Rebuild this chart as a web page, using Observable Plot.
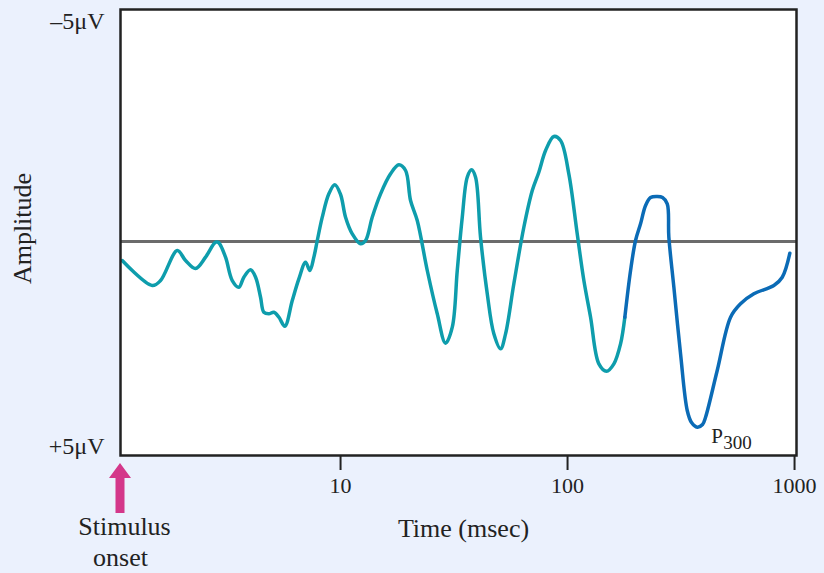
<!DOCTYPE html>
<html>
<head>
<meta charset="utf-8">
<script src="https://cdn.jsdelivr.net/npm/d3@7"></script>
<script src="https://cdn.jsdelivr.net/npm/@observablehq/plot@0.6"></script>
<style>
  html, body { margin: 0; padding: 0; background: #ebf1fd; }
</style>
</head>
<body>
<div id="chart"></div>
<script>
// Time (msec, log scale) and amplitude (µV, negative up)
const earlyTime = [1.092, 1.481, 1.611, 1.909, 2.076, 2.297, 2.543, 2.814, 2.901, 3.114, 3.334, 3.565, 3.750, 4.013, 4.224, 4.442, 4.593, 4.832, 5.084, 5.348, 5.682, 6.128, 6.552, 7.013, 7.326, 7.628, 7.897, 8.307, 8.882, 9.438, 10.0, 10.52, 11.26, 12.25, 12.89, 13.79, 15.01, 16.61, 18.06, 19.34, 20.34, 21.77, 24.10, 26.67, 29.01, 31.06, 32.67, 34.37, 36.15, 37.76, 39.33, 41.37, 44.29, 47.35, 50.67, 53.32, 58.00, 64.19, 69.92, 74.74, 80.02, 87.03, 93.16, 101.3, 110.3, 118.0, 126.3, 137.4, 148.5, 160.0, 171.2, 178.8];
const earlyAmp = [0.447, 1.035, 0.918, 0.212, 0.447, 0.635, 0.369, 0.016, 0.024, 0.369, 0.918, 1.075, 0.840, 0.666, 0.840, 1.311, 1.664, 1.701, 1.664, 1.781, 1.993, 1.388, 0.878, 0.487, 0.682, 0.369, -0.024, -0.572, -1.122, -1.334, -1.106, -0.572, -0.181, 0.054, -0.024, -0.572, -1.122, -1.593, -1.805, -1.671, -0.965, -0.494, 0.682, 1.701, 2.393, 2.016, 0.682, -0.572, -1.513, -1.687, -1.513, -0.101, 1.231, 2.172, 2.525, 2.172, 0.995, -0.336, -1.200, -1.631, -2.141, -2.471, -2.376, -1.593, -0.181, 0.918, 1.781, 2.878, 3.052, 2.878, 2.407, 1.781];
const lateTime = [178.8, 189.5, 199.3, 209.7, 220.6, 232.1, 248.5, 262.1, 274.9, 279.4, 294.0, 314.6, 336.7, 351.7, 372.7, 393.3, 405.5, 456.4, 522.6, 578.2, 661.9, 810.6, 882.8, 953.5];
const lateAmp = [1.781, 0.682, -0.024, -0.416, -0.847, -1.035, -1.059, -1.035, -0.887, -0.101, 1.075, 2.642, 3.976, 4.259, 4.369, 4.306, 4.134, 3.035, 1.781, 1.466, 1.231, 1.035, 0.840, 0.275];
const xTicks = [10, 100, 1000];
const xTickLabels = ["10", "100", "1000"];
const yTicks = [-5, 5];
const yTickLabels = ["\u20135\u03bcV", "+5\u03bcV"];

const T_MIN = 1.073, T_MAX = 1020;
const early = earlyTime.map((t, i) => ({t, v: earlyAmp[i]}));
const late = lateTime.map((t, i) => ({t, v: lateAmp[i]}));
const p300 = late.reduce((a, b) => (b.v > a.v ? b : a));

const teal = "#0e9dac";
const blue = "#0b6bb6";

function onsetArrow(index, scales, values, dimensions) {
  const x = scales.x(T_MIN);
  const y0 = dimensions.height - dimensions.marginBottom;
  const ns = "http://www.w3.org/2000/svg";
  const p = document.createElementNS(ns, "path");
  const d = [
    [x, y0 + 8], [x + 11, y0 + 23], [x + 4.5, y0 + 23], [x + 4.5, y0 + 58],
    [x - 4.5, y0 + 58], [x - 4.5, y0 + 23], [x - 11, y0 + 23]
  ].map((q, i) => (i ? "L" : "M") + q[0] + "," + q[1]).join("") + "Z";
  p.setAttribute("d", d);
  p.setAttribute("fill", "#d4378a");
  const g = document.createElementNS(ns, "g");
  g.appendChild(p);
  return g;
}

const chart = Plot.plot({
  width: 824,
  height: 573,
  marginTop: 9,
  marginBottom: 118,
  marginLeft: 120,
  marginRight: 28,
  style: {background: "#ebf1fd", fontFamily: "'Liberation Serif', 'Times New Roman', serif", fontSize: "24px", color: "#222"},
  x: {type: "log", domain: [T_MIN, T_MAX]},
  y: {domain: [5.035, -5.459]},
  marks: [
    Plot.frame({fill: "white"}),
    Plot.ruleY([0], {stroke: "#6b6b6b", strokeWidth: 3}),
    Plot.line(early, {x: "t", y: "v", stroke: teal, strokeWidth: 3.5, curve: "catmull-rom"}),
    Plot.line(late, {x: "t", y: "v", stroke: blue, strokeWidth: 3.5, curve: "catmull-rom"}),
    Plot.frame({stroke: "#222", strokeWidth: 2.5}),
    Plot.axisX({ticks: xTicks, tickFormat: (d) => xTickLabels[xTicks.indexOf(d)], tickSize: 15, tickPadding: 7, fontSize: 22, label: null, stroke: "#222", strokeWidth: 2, strokeOpacity: 1}),
    Plot.axisY({ticks: yTicks, tickFormat: (d) => yTickLabels[yTicks.indexOf(d)], tickSize: 0, tickPadding: 16, dy: -8, fontSize: 24, label: null}),
    Plot.text(["Amplitude"], {frameAnchor: "left", textAnchor: "middle", dx: -98, dy: -4, rotate: -90, fontSize: 26, fill: "#222"}),
    Plot.text(["Time (msec)"], {x: [34.8], frameAnchor: "bottom", textAnchor: "middle", dy: 81, fontSize: 26, fill: "#222"}),
    Plot.text(["Stimulus"], {x: [T_MIN], frameAnchor: "bottom", textAnchor: "middle", dx: 4, dy: 79, fontSize: 26, fill: "#222"}),
    Plot.text(["onset"], {x: [T_MIN], frameAnchor: "bottom", textAnchor: "middle", dx: 0, dy: 110, fontSize: 26, fill: "#222"}),
    Plot.text([p300], {x: "t", y: "v", text: () => "P", textAnchor: "start", dx: 14, dy: 9, fontSize: 21, fill: "#222"}),
    Plot.text([p300], {x: "t", y: "v", text: () => "300", textAnchor: "start", dx: 26, dy: 16, fontSize: 19, fill: "#222"}),
    onsetArrow
  ]
});
document.getElementById("chart").appendChild(chart);
</script>
</body>
</html>
